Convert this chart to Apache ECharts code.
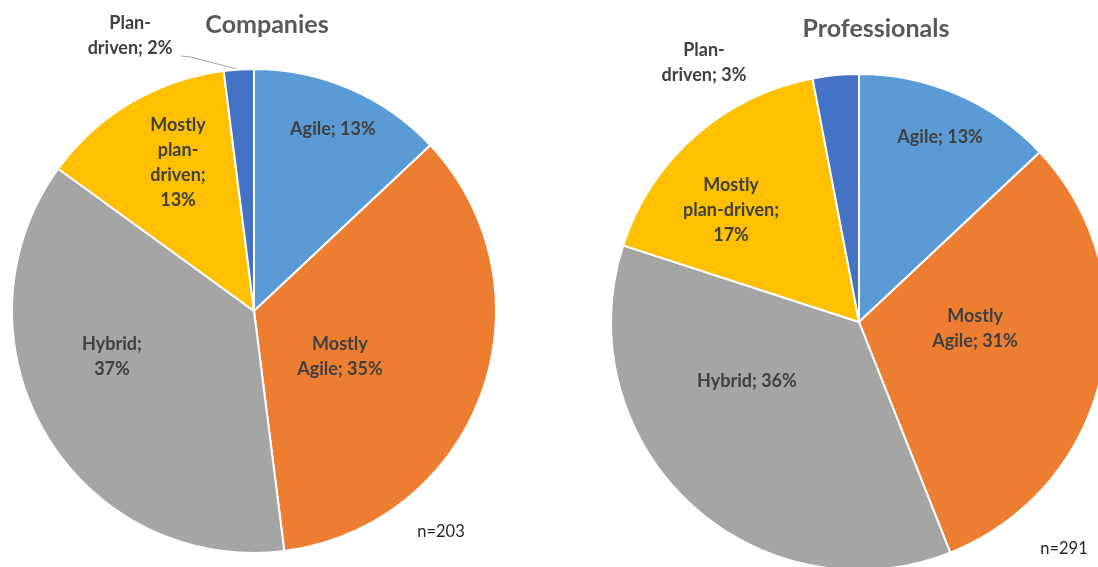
<!DOCTYPE html>
<html>
<head>
<meta charset="utf-8">
<script src="https://cdn.jsdelivr.net/npm/echarts@6/dist/echarts.min.js"></script>
<style>
  html, body { margin: 0; padding: 0; background: #fff; }
  #chart { width: 1098px; height: 567px; }
</style>
</head>
<body>
<div id="chart"></div>
<script>
// Survey answers: development approach, by respondent group
const categories = ['Agile', 'Mostly Agile', 'Hybrid', 'Mostly plan-driven', 'Plan-driven'];
const companyShares = [13, 35, 37, 13, 2];
const professionalShares = [13, 31, 36, 17, 3];
const companyLabelText = ['Agile; ', 'Mostly\nAgile; ', 'Hybrid;\n', 'Mostly\nplan-\ndriven;\n', 'Plan-\ndriven; '];
const professionalLabelText = ['Agile; ', 'Mostly\nAgile; ', 'Hybrid; ', 'Mostly\nplan-driven;\n', 'Plan-\ndriven; '];
const companyCount = 'n=203';
const professionalCount = 'n=291';

const sliceColors = ['#5B9BD5', '#ED7D31', '#A5A5A5', '#FFC000', '#4472C4'];
const labelFont = 'Lato, "Open Sans", sans-serif';

// Pie geometry and label anchors (offsets from the pie centre, in radii)
const pies = [
  {
    title: 'Companies', titleX: 267, titleY: 25,
    cx: 254, cy: 311, r: 242,
    shares: companyShares, text: companyLabelText,
    outsideLine: true,
    labelAt: [[0.326, -0.752], [0.355, 0.190], [-0.587, 0.190], [-0.314, -0.612], [-0.512, -1.136]],
    guideEnd: [[-0.264, -1.050], [-0.302, -1.054]],
    count: companyCount, countX: 441, countY: 532
  },
  {
    title: 'Professionals', titleX: 876, titleY: 29,
    cx: 859, cy: 322, r: 248,
    shares: professionalShares, text: professionalLabelText,
    outsideLine: false,
    labelAt: [[0.327, -0.746], [0.468, 0.028], [-0.452, 0.238], [-0.516, -0.452], [-0.625, -1.044]],
    guideEnd: null,
    count: professionalCount, countX: 1064, countY: 549
  }
];

function midAngle(shares, i) {
  const total = shares.reduce((a, b) => a + b, 0);
  let before = 0;
  for (let k = 0; k < i; k++) before += shares[k];
  return ((before + shares[i] / 2) / total) * Math.PI * 2;
}

const series = pies.map((p) => ({
  type: 'pie',
  center: [p.cx, p.cy],
  radius: p.r,
  startAngle: 90,
  clockwise: true,
  avoidLabelOverlap: false,
  animation: false,
  silent: true,
  itemStyle: { borderColor: '#ffffff', borderWidth: 2 },
  label: {
    show: true,
    position: 'inside',
    color: '#404040',
    fontFamily: labelFont,
    fontWeight: 'bold',
    fontSize: 18,
    lineHeight: 25,
    formatter: (params) => p.text[params.dataIndex] + params.value + '%'
  },
  labelLine: { show: false },
  labelLayout: (params) => {
    const i = params.dataIndex;
    const out = {
      x: p.cx + p.labelAt[i][0] * p.r,
      y: p.cy + p.labelAt[i][1] * p.r,
      align: 'center',
      verticalAlign: 'middle'
    };
    if (i === categories.length - 1 && p.guideEnd) {
      const a = midAngle(p.shares, i);
      const edge = [p.cx + Math.sin(a) * p.r, p.cy - Math.cos(a) * p.r];
      out.labelLinePoints = [
        edge,
        [p.cx + p.guideEnd[0][0] * p.r, p.cy + p.guideEnd[0][1] * p.r],
        [p.cx + p.guideEnd[1][0] * p.r, p.cy + p.guideEnd[1][1] * p.r]
      ];
    }
    return out;
  },
  data: categories.map((name, i) => {
    const item = { name: name, value: p.shares[i], itemStyle: { color: sliceColors[i] } };
    if (i === categories.length - 1) {
      item.label = { position: 'outside' };
      item.labelLine = {
        show: p.outsideLine,
        length: 10,
        length2: 10,
        lineStyle: { color: '#A6A6A6', width: 1 }
      };
    }
    return item;
  })
}));

const graphics = [];
pies.forEach((p) => {
  graphics.push({
    type: 'text', x: p.titleX, y: p.titleY, silent: true,
    style: {
      text: p.title, fill: '#595959', font: 'bold 25px ' + labelFont,
      align: 'center', verticalAlign: 'middle'
    }
  });
  graphics.push({
    type: 'text', x: p.countX, y: p.countY, silent: true,
    style: {
      text: p.count, fill: '#262626', font: '16.5px ' + labelFont,
      align: 'center', verticalAlign: 'middle'
    }
  });
});

const chart = echarts.init(document.getElementById('chart'), null, { renderer: 'canvas' });
chart.setOption({
  backgroundColor: '#ffffff',
  animation: false,
  series: series,
  graphic: graphics
});
</script>
</body>
</html>
